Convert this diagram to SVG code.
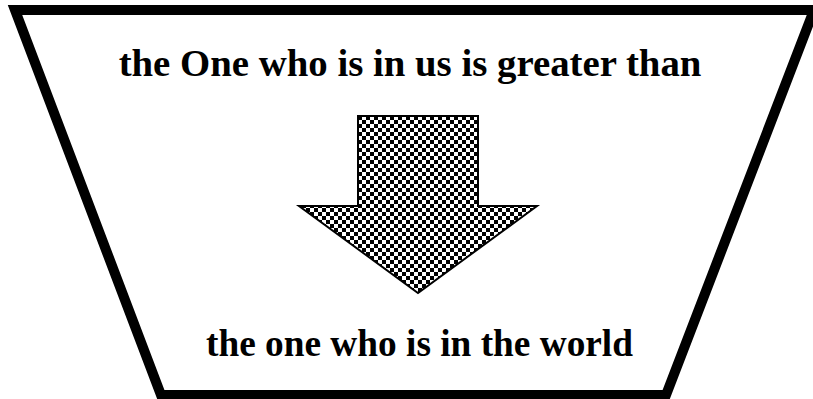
<svg xmlns="http://www.w3.org/2000/svg" width="813" height="399" viewBox="0 0 813 399">
<defs>
<pattern id="checker" patternUnits="userSpaceOnUse" x="358" y="116" width="8" height="8">
<rect width="8" height="8" fill="#fff"/>
<rect width="4" height="4" fill="#000"/>
<rect x="4" y="4" width="4" height="4" fill="#000"/>
</pattern>
<style>
.lbl{font-family:"Liberation Serif","Times New Roman",serif;font-weight:bold;fill:#000;text-anchor:middle}
</style>
</defs>
<rect width="813" height="399" fill="#fff"/>
<g id="frame">
<polygon points="15,10 814,10 666,395 161,395" fill="#fff" stroke="#000" stroke-width="10" stroke-linejoin="miter"/>
</g>
<g id="top-text">
<text class="lbl" x="410" y="76" font-size="38.8">the One who is in us is greater than</text>
</g>
<g id="arrow">
<polygon points="358,116 478,116 478,206 537,206 418,293 299,206 358,206" fill="url(#checker)" stroke="#000" stroke-width="2" stroke-linejoin="miter"/>
</g>
<g id="bottom-text">
<text class="lbl" x="419.5" y="356" font-size="37.3">the one who is in the world</text>
</g>
<g id="connectors"/>
</svg>
